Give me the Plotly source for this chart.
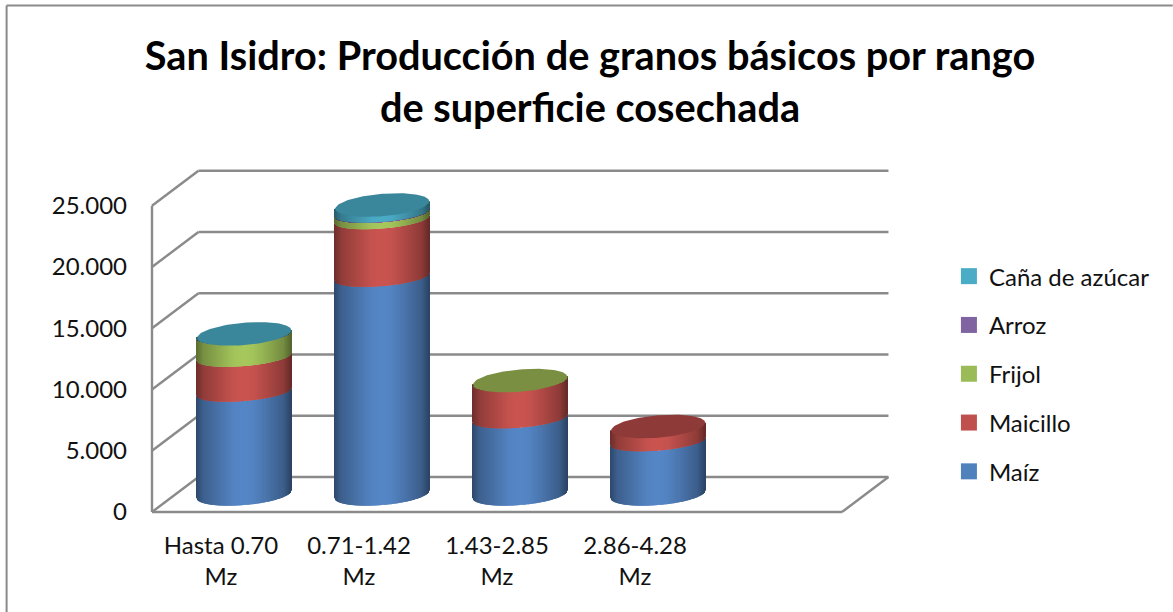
import numpy as np
import plotly.graph_objects as go

# ---------- data ----------
categories = ["Hasta 0.70<br>Mz", "0.71-1.42<br>Mz", "1.43-2.85<br>Mz", "2.86-4.28<br>Mz"]
maiz = [8370, 17750, 6200, 4325]
maicillo = [2850, 4700, 3070, 1225]
frijol = [1840, 530, 30, 0]
arroz = [20, 20, 0, 0]
cana = [30, 630, 0, 0]
series_names = ["Maíz", "Maicillo", "Frijol", "Arroz", "Caña de azúcar"]
y_ticks = [0, 5000, 10000, 15000, 20000, 25000]
y_tick_labels = ["0", "5.000", "10.000", "15.000", "20.000", "25.000"]

# ---------- style ----------
W, H = 1173, 612
YTOP = 28000                       # axis range runs above the last tick so cylinder caps are not clipped
L, R, B = 151.5, 842.0, 512.0
px_y = (512.0 - 205.7) / 25000     # pixels per value unit
T = B - YTOP * px_y
NSLOTS = 5
px_x = (R - L) / NSLOTS            # pixels per category
DEPTH_X = 46.5 / px_x              # 3-D depth in x units
DEPTH_Y = 35.0 / px_y              # 3-D depth in y units
HALF_W = 47.0 / px_x               # cylinder half width
A_FLOOR = 10.5 / px_y              # front-curve depth at the floor
A_INNER = 9.0 / px_y               # front-curve depth between stacked segments
A_CAP = 11.2 / px_y                # vertical semi-axis of the top cap
ELL_T = 3.8 / px_y                 # ellipse tilt
N_STRIPS = 94

FONT = "Lato"
GRID = "#8A8A8A"
INK = "#111111"
bright = [(85, 134, 198), (202, 84, 80), (166, 200, 92), (128, 100, 162), (75, 172, 198)]
swatch = ["#4F81BD", "#C0504D", "#9BBB59", "#8064A2", "#4BACC6"]
cap = ["#4A78AE", "#8E3A38", "#7A8F42", "#5E4A78", "#3A869B"]

values = [maiz, maicillo, frijol, arroz, cana]


def shade(rgb, u):
    f = np.interp(u, [-1, -0.85, -0.5, -0.2, 0.0, 0.2, 0.5, 0.85, 1],
                  [0.55, 0.72, 0.86, 0.98, 1.0, 0.98, 0.86, 0.70, 0.52])
    return "rgb(%d,%d,%d)" % tuple(int(c * f) for c in rgb)


def front_curve(u, a):
    return a * np.sqrt(max(0.0, 1 - u * u)) - ELL_T * u


def px(x):
    return x / NSLOTS


def py(v):
    return v / YTOP


def fx(p):
    return (p - L) / (R - L)


def fy(p):
    return (B - p) / (B - T)


fig = go.Figure()

# cylinder sides
us = np.linspace(-1, 1, N_STRIPS)
centers = [i + 0.5 + DEPTH_X / 2 for i in range(len(categories))]
floor = DEPTH_Y / 2
strip_w = 1.5 / px_x
cum = np.zeros(len(categories))
for s, vals in enumerate(values):
    xs, bases, hs, cols = [], [], [], []
    for c, v in enumerate(vals):
        if v <= 0:
            continue
        for u in us:
            lower = floor + cum[c] - front_curve(u, A_FLOOR if s == 0 else A_INNER)
            upper = floor + cum[c] + v - front_curve(u, A_INNER)
            xs.append(centers[c] + u * HALF_W)
            bases.append(lower)
            hs.append(upper - lower)
            cols.append(shade(bright[s], u))
    fig.add_trace(go.Bar(x=xs, y=hs, base=bases, width=strip_w, marker=dict(color=cols, line=dict(width=0)),
                         showlegend=False, hoverinfo="skip", cliponaxis=False))
    cum = cum + np.array(vals)

# cylinder top caps, coloured by the top non-trivial series
theta = np.linspace(0, 2 * np.pi, 121)
for c in range(len(categories)):
    total = sum(v[c] for v in values)
    top = max(s for s in range(5) if values[s][c] > 0)
    xe = centers[c] + HALF_W * np.cos(theta)
    ye = floor + total + A_CAP * np.sin(theta) + ELL_T * np.cos(theta)
    fig.add_trace(go.Scatter(x=xe, y=ye, mode="lines", fill="toself", fillcolor=cap[top],
                             line=dict(width=0), showlegend=False, hoverinfo="skip", cliponaxis=False))

# legend entries (top to bottom: Caña ... Maíz)
for s in reversed(range(len(series_names))):
    name = series_names[s]
    fig.add_trace(go.Scatter(x=[None], y=[None], mode="markers", name=name, legendgroup=name,
                             marker=dict(symbol="square", size=16, color=swatch[s])))

# walls and floor
shapes = []


def seg(x0, v0, x1, v1, w=2.4):
    shapes.append(dict(type="line", xref="paper", yref="paper", layer="below",
                       x0=px(x0), y0=py(v0), x1=px(x1), y1=py(v1), line=dict(color=GRID, width=w)))


for v in y_ticks:
    seg(0, v, DEPTH_X, v + DEPTH_Y)
    seg(DEPTH_X, v + DEPTH_Y, NSLOTS + DEPTH_X, v + DEPTH_Y)
seg(NSLOTS, 0, NSLOTS + DEPTH_X, DEPTH_Y)
seg(0, 0, 0, y_ticks[-1])
seg(0, 0, NSLOTS, 0)

# chart frame: left and top edges only
for x0, y0, x1, y1 in [(6, 5.5, 6, 612), (6, 5.5, 1173, 5.5)]:
    shapes.append(dict(type="line", xref="paper", yref="paper", layer="below",
                       x0=fx(x0), y0=fy(y0), x1=fx(x1), y1=fy(y1), line=dict(color=GRID, width=2)))

fig.update_layout(
    width=W, height=H, autosize=False,
    margin=dict(l=L, r=W - R, t=T, b=H - B, pad=0, autoexpand=False),
    paper_bgcolor="white", plot_bgcolor="rgba(0,0,0,0)",
    barmode="overlay",
    font=dict(family=FONT, color=INK, size=24),
    title=dict(text="<b>San Isidro: Producción de granos básicos por rango<br>de superficie cosechada</b>",
               x=590 / W, xanchor="center", y=1 - 70 / H, yanchor="top", yref="container",
               font=dict(family=FONT, size=39.7, color="#000000")),
    xaxis=dict(range=[0, NSLOTS], tickmode="array", tickvals=[i + 0.5 for i in range(len(categories))],
               ticktext=categories, showgrid=False, zeroline=False, showline=False,
               ticks="", tickfont=dict(family=FONT, size=24, color=INK), ticklabelstandoff=17),
    yaxis=dict(range=[0, YTOP], tickmode="array", tickvals=y_ticks, ticktext=y_tick_labels,
               showgrid=False, zeroline=False, showline=False,
               ticks="", tickfont=dict(family=FONT, size=24, color=INK), ticklabelstandoff=24),
    legend=dict(x=fx(949), xanchor="left", y=fy(254), yanchor="top", traceorder="grouped",
                tracegroupgap=14.6, bgcolor="rgba(0,0,0,0)", font=dict(family=FONT, size=24, color=INK),
                itemclick=False, itemdoubleclick=False),
    shapes=shapes,
)

fig.write_html("out.html", config={"displayModeBar": False}, post_script="document.body.style.margin='0';")
